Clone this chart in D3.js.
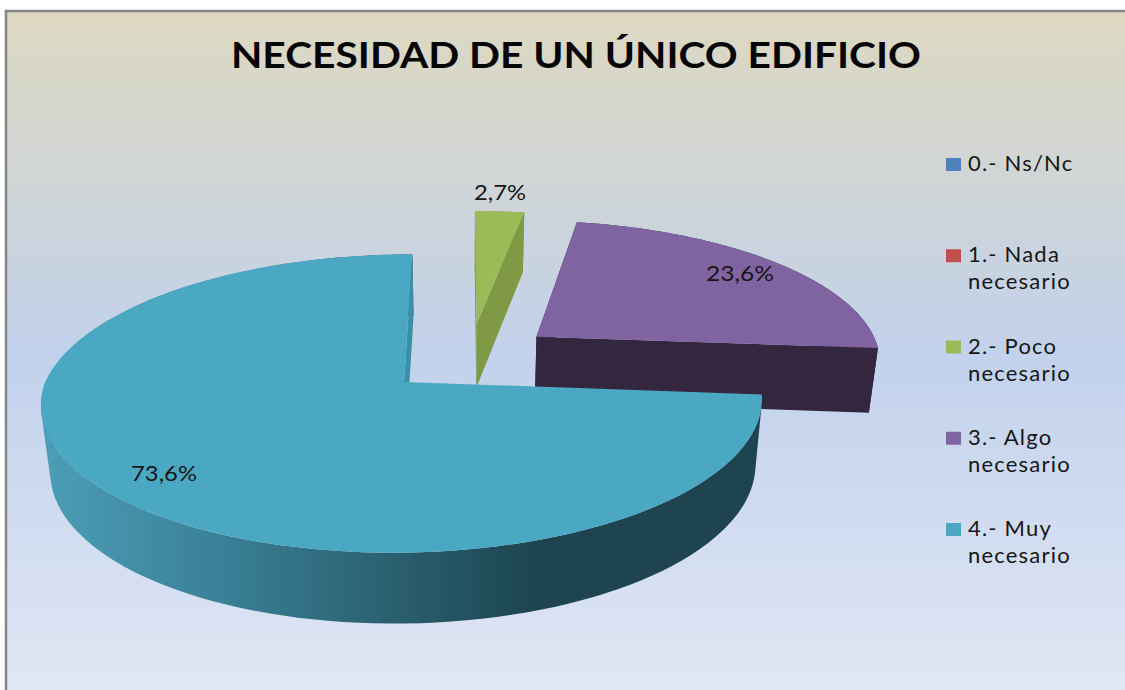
<!DOCTYPE html>
<html>
<head>
<meta charset="utf-8">
<script src="https://cdn.jsdelivr.net/npm/d3@7"></script>
<style>
  html, body { margin: 0; padding: 0; background: #fff; }
  svg { display: block; }
  text { font-family: Lato, "Noto Sans", sans-serif; fill: #161616; }
</style>
</head>
<body>
<div id="chart"></div>
<script>
const width = 1125, height = 690;

const titleText = "NECESIDAD DE UN ÚNICO EDIFICIO";
const categories = ["0.- Ns/Nc", "1.- Nada necesario", "2.- Poco necesario", "3.- Algo necesario", "4.- Muy necesario"];
const values = [0, 0, 2.7, 23.6, 73.6];
const topColors = ["#4f81bd", "#c0504d", "#9bbb59", "#8064a2", "#4aa8c3"];
const faceColors = ["#3a6291", "#8f3b39", "#7f9945", "#35263f", "#3c8fa8"];

const svg = d3.select("#chart").append("svg")
    .attr("width", width)
    .attr("height", height)
    .attr("viewBox", `0 0 ${width} ${height}`);

const defs = svg.append("defs");

// chart area background
const bg = defs.append("linearGradient").attr("id", "bg")
    .attr("x1", 0).attr("y1", 0).attr("x2", 0).attr("y2", 1);
bg.append("stop").attr("offset", "0%").attr("stop-color", "#ddd8c1");
bg.append("stop").attr("offset", "50%").attr("stop-color", "#c2d2ec");
bg.append("stop").attr("offset", "100%").attr("stop-color", "#e1e7f5");

// shaded round wall of the big slice
const wall = defs.append("linearGradient").attr("id", "wall")
    .attr("gradientUnits", "userSpaceOnUse")
    .attr("x1", 50).attr("y1", 0).attr("x2", 535).attr("y2", 0);
wall.append("stop").attr("offset", "0%").attr("stop-color", "#4a9db5");
wall.append("stop").attr("offset", "35%").attr("stop-color", "#3a8097");
wall.append("stop").attr("offset", "65%").attr("stop-color", "#2c6576");
wall.append("stop").attr("offset", "100%").attr("stop-color", "#1d4450");

svg.append("rect")
    .attr("x", 6).attr("y", 11)
    .attr("width", width).attr("height", height)
    .attr("fill", "url(#bg)")
    .attr("stroke", "#868686")
    .attr("stroke-width", 2.5);

// fake 3d: disc units to screen, with the far side shrunk
const camX = 465, camY = 382;
const radiusX = 357, radiusY = 148;
const perspNear = 0.133, perspFar = 0.16, perspX = 0.004;
const depth = 66, shrink = 0.978;
const explode = 0.25;
const apexShift = 61; // the big slice apex sits this far left of camX

function project(u, v, z) {
    const w = 1 - (v < 0 ? perspFar : perspNear) * v + perspX * u;
    let x = camX + (radiusX * u - apexShift) / w;
    if (z) x = camX + (x - camX) * shrink;
    const y = camY + radiusY * v / w + (z ? depth / Math.sqrt(w) : 0);
    return [x, y];
}

const pie = d3.pie().sort(null).value(d => d)(values);
const big = pie[4];
const bigMid = (big.startAngle + big.endAngle) / 2;

// all slices are pulled out from a common centre, coordinates relative to big apex
function apexOf(d) {
    const mid = (d.startAngle + d.endAngle) / 2;
    return [
        explode * (Math.sin(mid) - Math.sin(bigMid)),
        -explode * (Math.cos(mid) - Math.cos(bigMid))
    ];
}

function arcPoints(d, z) {
    const a = apexOf(d);
    return d3.range(0, 121).map(i => {
        const t = d.startAngle + (d.endAngle - d.startAngle) * i / 120;
        return project(a[0] + Math.sin(t), a[1] - Math.cos(t), z);
    });
}

function edge(d, angle, z) {
    const a = apexOf(d);
    return project(a[0] + Math.sin(angle), a[1] - Math.cos(angle), z);
}

// wall as quads all wound the same way, so the silhouette fills in one path
function wallPath(d) {
    const t = arcPoints(d, 0), b = arcPoints(d, 1);
    return d3.range(0, t.length - 1).map(i => {
        const quad = [t[i], t[i + 1], b[i + 1], b[i]];
        if (d3.polygonArea(quad) < 0) quad.reverse();
        return line(quad) + "Z";
    }).join("");
}

const line = d3.line();
const slices = svg.append("g");

pie.forEach((d, i) => {
    if (d.value === 0) return;
    const a = apexOf(d);
    const apexTop = project(a[0], a[1], 0), apexBottom = project(a[0], a[1], 1);

    // round wall
    slices.append("path")
        .attr("d", wallPath(d))
        .attr("fill", i === 4 ? "url(#wall)" : faceColors[i]);

    // cut faces
    slices.append("path")
        .attr("d", line([apexTop, edge(d, d.endAngle, 0), edge(d, d.endAngle, 1), apexBottom]) + "Z")
        .attr("fill", faceColors[i]);
    if (i !== 4) {
        slices.append("path")
            .attr("d", line([apexTop, edge(d, d.startAngle, 0), edge(d, d.startAngle, 1), apexBottom]) + "Z")
            .attr("fill", faceColors[i]);
    }

    // top
    slices.append("path")
        .attr("d", line([apexTop].concat(arcPoints(d, 0))) + "Z")
        .attr("fill", topColors[i]);
});

// title
svg.append("text")
    .attr("x", 231).attr("y", 68)
    .attr("textLength", 690)
    .attr("lengthAdjust", "spacingAndGlyphs")
    .attr("font-size", 37)
    .attr("font-weight", 700)
    .style("fill", "#050505")
    .text(titleText);

// data labels
const labelPos = { 2: [500, 200, 52], 3: [740, 281, 68], 4: [164, 481, 66] };
pie.forEach((d, i) => {
    if (!labelPos[i]) return;
    svg.append("text")
        .attr("x", labelPos[i][0] - labelPos[i][2] / 2)
        .attr("y", labelPos[i][1])
        .attr("textLength", labelPos[i][2])
        .attr("lengthAdjust", "spacingAndGlyphs")
        .attr("font-size", 22)
        .text(d3.format(".1f")(d.value).replace(".", ",") + "%");
});

// legend
const legendY = d3.scalePoint().domain(categories).range([171, 536]);
const legend = svg.append("g");
categories.forEach((c, i) => {
    const y = legendY(c);
    legend.append("rect")
        .attr("x", 946).attr("y", y - 13)
        .attr("width", 15).attr("height", 13)
        .attr("fill", topColors[i]);
    const m = c.match(/^(\S+ \S+)(?: (.*))?$/);
    legend.append("text")
        .attr("x", 968).attr("y", y)
        .attr("font-size", 22)
        .attr("letter-spacing", 1.2)
        .text(m[1]);
    if (m[2]) {
        legend.append("text")
            .attr("x", 968).attr("y", y + 27)
            .attr("font-size", 22)
            .attr("letter-spacing", 1.2)
            .text(m[2]);
    }
});
</script>
</body>
</html>
